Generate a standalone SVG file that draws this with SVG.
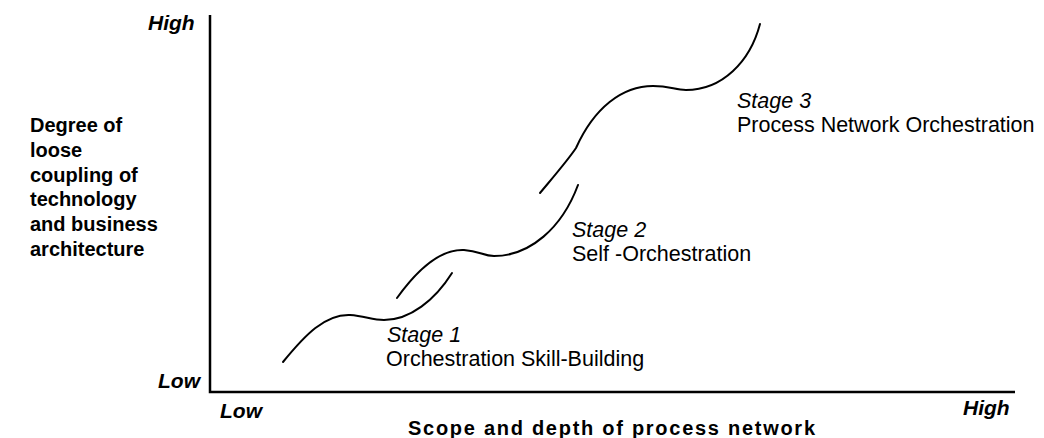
<svg xmlns="http://www.w3.org/2000/svg" width="1044" height="438" viewBox="0 0 1044 438">
<style>
.ax{stroke:#000;stroke-width:2.5;fill:none}
.cv{stroke:#000;stroke-width:2;fill:none;stroke-linecap:round}
.bi{font-family:"Liberation Sans",Arial,sans-serif;font-weight:bold;font-style:italic;font-size:21px;fill:#000}
.b{font-family:"Liberation Sans",Arial,sans-serif;font-weight:bold;font-size:20px;fill:#000}
.st{font-family:"Liberation Sans",Arial,sans-serif;font-size:21.5px;fill:#000}
.it{font-style:italic}
</style>
<rect width="1044" height="438" fill="#fff"/>
<g id="axes">
<path class="ax" d="M210,15 V392 H1015"/>
</g>
<g id="axis-labels">
<text class="bi" x="148" y="30">High</text>
<text class="bi" x="158" y="388">Low</text>
<text class="bi" x="220" y="418">Low</text>
<text class="bi" x="963" y="415">High</text>
<text class="b" x="408" y="435" textLength="407" lengthAdjust="spacing">Scope and depth of process network</text>
</g>
<g id="y-label">
<text class="b" x="30" y="132">Degree of</text>
<text class="b" x="30" y="157">loose</text>
<text class="b" x="30" y="182">coupling of</text>
<text class="b" x="30" y="206">technology</text>
<text class="b" x="30" y="231">and business</text>
<text class="b" x="30" y="256">architecture</text>
</g>
<g id="connectors">
<path id="curve1" class="cv" d="M283,362 C305,335 325,314 350,315 C365,316 372,320 384,320 C410,320 435,300 452,273"/>
<path id="curve2" class="cv" d="M397,298 C420,266 442,249 464,250 C480,251 483,256 494,256 C530,256 562,228 578,185"/>
<path id="curve3" class="cv" d="M540,193 C555,175 568,160 576,148 C594,108 622,86 653,86 C670,86 675,90 686,90 C722,90 750,62 760,24"/>
</g>
<g id="stage1">
<text class="st it" x="387" y="342">Stage 1</text>
<text class="st" x="386" y="366">Orchestration Skill-Building</text>
</g>
<g id="stage2">
<text class="st it" x="572" y="237">Stage 2</text>
<text class="st" x="572" y="261">Self -Orchestration</text>
</g>
<g id="stage3">
<text class="st it" x="737" y="108">Stage 3</text>
<text class="st" x="737" y="132">Process Network Orchestration</text>
</g>
</svg>
